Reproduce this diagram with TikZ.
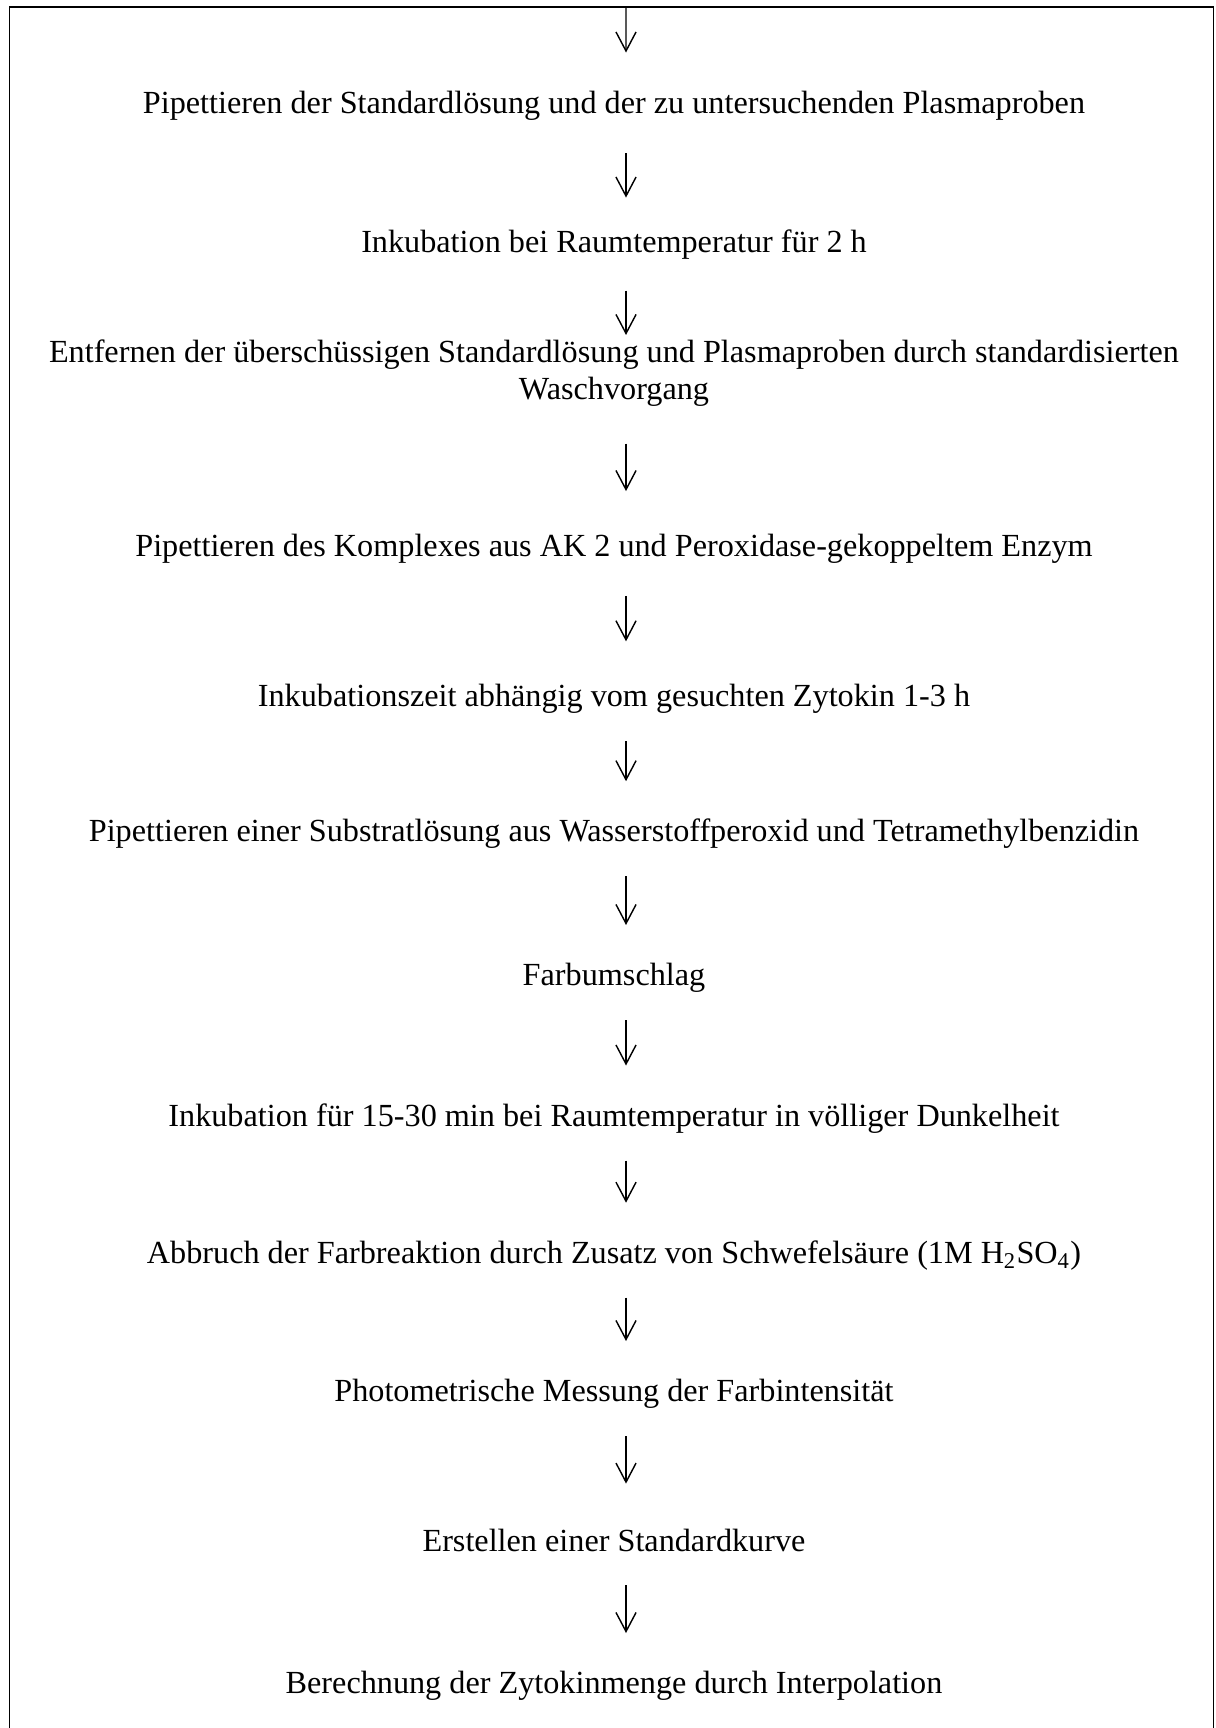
\documentclass[tikz,border=0pt]{standalone}
\usepackage{fontspec}
\setmainfont{Liberation Serif}
\usetikzlibrary{arrows.meta}
\tikzset{
  stage/.style={font=\fontsize{12.5}{14.3}\selectfont, inner sep=0pt, text height=8.85pt, text depth=3.1pt},
  flowarrow/.style={line width=0.55pt, -{Straight Barb[length=7.4pt,width=7.8pt]}, shorten <=10pt, shorten >=14.5pt},
}
\def\darr{\draw[flowarrow]}

\begin{document}
\begin{tikzpicture}[x=0.388pt,y=-0.388pt]
  \useasboundingbox (0,0) rectangle (1215,1728);
  \draw[line width=0.6pt] (9.5,1728) |- (1213.5,7) -- (1213.5,1728);
  \coordinate (top) at (626,7);
  \node[stage] (t1)  at (614,105.8)  {Pipettieren der Standardlösung und der zu untersuchenden Plasmaproben};
  \node[stage] (t2)  at (614,245.2)  {Inkubation bei Raumtemperatur für 2 h};
  \node[stage, align=center, text height=23.15pt] (t3) at (614,373.2)
    {Entfernen der überschüssigen Standardlösung und Plasmaproben durch standardisierten\\Waschvorgang};
  \node[stage] (t4)  at (614,549)    {Pipettieren des Komplexes aus AK 2 und Peroxidase-gekoppeltem Enzym};
  \node[stage] (t5)  at (614,699.5)  {Inkubationszeit abhängig vom gesuchten Zytokin 1-3 h};
  \node[stage] (t6)  at (614,834.5)  {Pipettieren einer Substratlösung aus Wasserstoffperoxid und Tetramethylbenzidin};
  \node[stage] (t7)  at (614,978.3)  {Farbumschlag};
  \node[stage] (t8)  at (614,1118.8) {Inkubation für 15-30 min bei Raumtemperatur in völliger Dunkelheit};
  \node[stage] (t9)  at (614,1256)   {Abbruch der Farbreaktion durch Zusatz von Schwefelsäure (1M H\textsubscript{2}SO\textsubscript{4})};
  \node[stage] (t10) at (614,1394.3) {Photometrische Messung der Farbintensität};
  \node[stage] (t11) at (614,1543.6) {Erstellen einer Standardkurve};
  \node[stage] (t12) at (614,1686.3) {Berechnung der Zytokinmenge durch Interpolation};
  % Pfeile
  \darr[shorten <=0pt] (top) -- ([xshift=4.66pt]t1.north);
  \darr[shorten <=12.3pt, shorten >=12.3pt] ([xshift=4.66pt]t1.south) -- ([xshift=4.66pt]t2.north);
  \darr[shorten <=11.4pt, shorten >=1.5pt]  ([xshift=4.66pt]t2.south) -- ([xshift=4.66pt]t3.north);
  \darr[shorten <=14pt, shorten >=16.3pt]   ([xshift=4.66pt]t3.south) -- ([xshift=4.66pt]t4.north);
  \darr[shorten <=12pt, shorten >=16.4pt]   ([xshift=4.66pt]t4.south) -- ([xshift=4.66pt]t5.north);
  \darr ([xshift=4.66pt]t5.south)  -- ([xshift=4.66pt]t6.north);
  \darr ([xshift=4.66pt]t6.south)  -- ([xshift=4.66pt]t7.north);
  \darr ([xshift=4.66pt]t7.south)  -- ([xshift=4.66pt]t8.north);
  \darr ([xshift=4.66pt]t8.south)  -- ([xshift=4.66pt]t9.north);
  \darr ([xshift=4.66pt]t9.south)  -- ([xshift=4.66pt]t10.north);
  \darr[shorten >=17.1pt] ([xshift=4.66pt]t10.south) -- ([xshift=4.66pt]t11.north);
  \darr ([xshift=4.66pt]t11.south) -- ([xshift=4.66pt]t12.north);
\end{tikzpicture}
\end{document}
